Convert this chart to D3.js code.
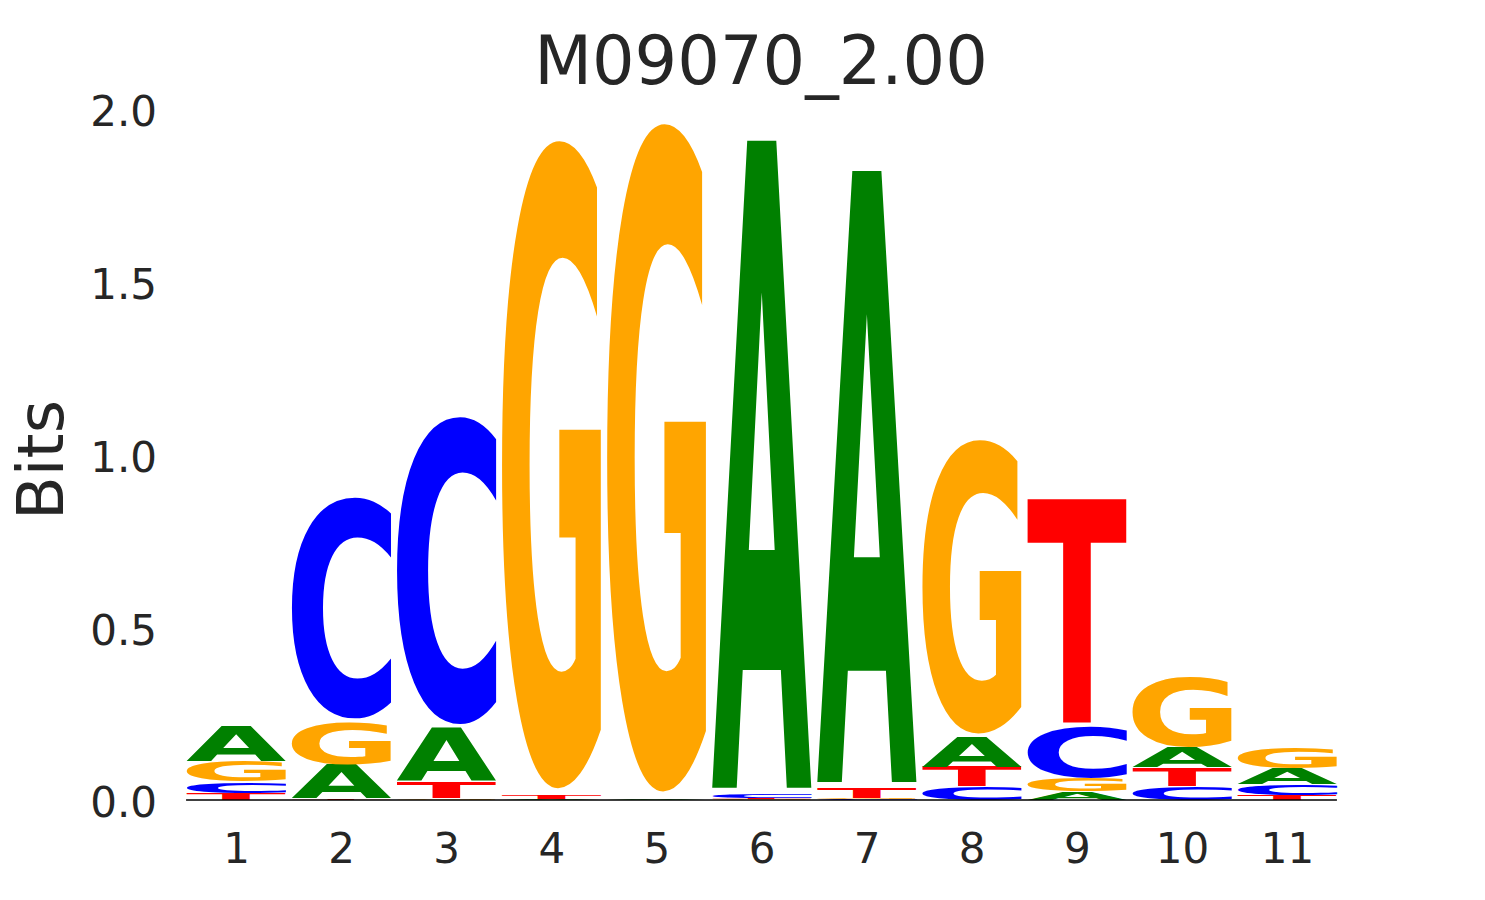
<!DOCTYPE html>
<html>
<head>
<meta charset="utf-8">
<script src="https://cdn.jsdelivr.net/npm/d3@7"></script>
<style>
  html, body { margin: 0; padding: 0; background: #fff; }
  svg { display: block; }
  text { font-family: "DejaVu Sans", sans-serif; fill: #262626; }
</style>
</head>
<body>
<svg id="chart" width="1485" height="900"></svg>
<script>
// ---- data (information content in bits per base, per position) ----
const positions = [1, 2, 3, 4, 5, 6, 7, 8, 9, 10, 11];
const bitsA = [0.102, 0.100, 0.158, 0.003, 0.003, 1.914, 1.807, 0.088, 0.024, 0.056, 0.045];
const bitsC = [0.033, 0.655, 0.910, 0.000, 0.000, 0.010, 0.002, 0.039, 0.150, 0.041, 0.030];
const bitsG = [0.058, 0.125, 0.005, 1.920, 1.980, 0.002, 0.003, 0.870, 0.039, 0.209, 0.058];
const bitsT = [0.020, 0.004, 0.047, 0.010, 0.000, 0.004, 0.029, 0.056, 0.665, 0.054, 0.015];
const bases = ["A", "C", "G", "T"];
const baseColors = ["#008000", "#0000ff", "#ffa500", "#ff0000"];
const yTicks = [0, 0.5, 1.0, 1.5, 2.0];
const title = "M09070_2.00";
const yLabel = "Bits";

// ---- layout ----
const svg = d3.select("#chart");
const x = d3.scaleLinear().domain([1, 11]).range([236, 1287]);
const y = d3.scaleLinear().domain([0, 2]).range([800, 109]);
const step = x(2) - x(1);
const letterW = 0.95 * step;
const vpad = 0.02;
const color = d3.scaleOrdinal().domain(bases).range(baseColors);

// glyph metrics for stretching letters into boxes
const FS = 200;
const ctx = document.createElement("canvas").getContext("2d");
ctx.font = `bold ${FS}px "DejaVu Sans"`;
const metrics = {};
bases.forEach(b => {
  const m = ctx.measureText(b);
  metrics[b] = {
    left: m.actualBoundingBoxLeft,
    right: m.actualBoundingBoxRight,
    asc: m.actualBoundingBoxAscent,
    desc: m.actualBoundingBoxDescent
  };
});

// build stacks (smallest at the bottom)
const table = positions.map((p, i) => {
  const vals = [
    { base: "A", v: bitsA[i] },
    { base: "C", v: bitsC[i] },
    { base: "G", v: bitsG[i] },
    { base: "T", v: bitsT[i] }
  ].sort((a, b) => a.v - b.v);
  let cum = 0;
  vals.forEach(d => { d.y0 = cum; cum += d.v; d.y1 = cum; d.pos = p; });
  return vals;
});
const glyphs = table.flat().filter(d => d.v > 0);

const gLetters = svg.append("g");
gLetters.selectAll("text")
  .data(glyphs)
  .join("text")
  .text(d => d.base)
  .attr("font-size", FS)
  .attr("font-weight", "bold")
  .style("fill", d => color(d.base))
  .attr("transform", d => {
    const m = metrics[d.base];
    const top = y(d.y1), bot = y(d.y0);
    const hBox = bot - top;
    const h = hBox * (1 - vpad);
    const yTop = top + hBox * vpad / 2;
    const X = x(d.pos) - letterW / 2;
    const sx = letterW / (m.left + m.right);
    const sy = h / (m.asc + m.desc);
    return `translate(${X},${yTop}) scale(${sx},${sy}) translate(${m.left},${m.asc})`;
  });

// baseline
svg.append("line")
  .attr("x1", x(1) - letterW / 2).attr("x2", x(11) + letterW / 2)
  .attr("y1", y(0)).attr("y2", y(0))
  .attr("stroke", "#000").attr("stroke-width", 1.5);

// y axis
const yAxis = svg.append("g")
  .attr("transform", "translate(157,0)")
  .call(d3.axisLeft(y).tickValues(yTicks).tickFormat(d3.format(".1f")).tickSize(0).tickPadding(0));
yAxis.select(".domain").remove();
yAxis.selectAll("text")
  .attr("font-size", 42)
  .attr("font-family", "DejaVu Sans")
  .attr("dy", "0.4em")
  .style("fill", "#262626");

// x axis
const xAxis = svg.append("g")
  .attr("transform", "translate(0,800)")
  .call(d3.axisBottom(x).tickValues(positions).tickFormat(d3.format("d")).tickSize(0).tickPadding(0));
xAxis.select(".domain").remove();
xAxis.selectAll("text")
  .attr("font-size", 42)
  .attr("font-family", "DejaVu Sans")
  .attr("y", 63)
  .attr("dy", 0)
  .style("fill", "#262626");

// y label
svg.append("text")
  .attr("transform", "translate(63,460) rotate(-90)")
  .attr("text-anchor", "middle")
  .attr("font-size", 64)
  .text(yLabel);

// title
svg.append("text")
  .attr("x", 761)
  .attr("y", 84)
  .attr("text-anchor", "middle")
  .attr("font-size", 67)
  .text(title);
</script>
</body>
</html>
